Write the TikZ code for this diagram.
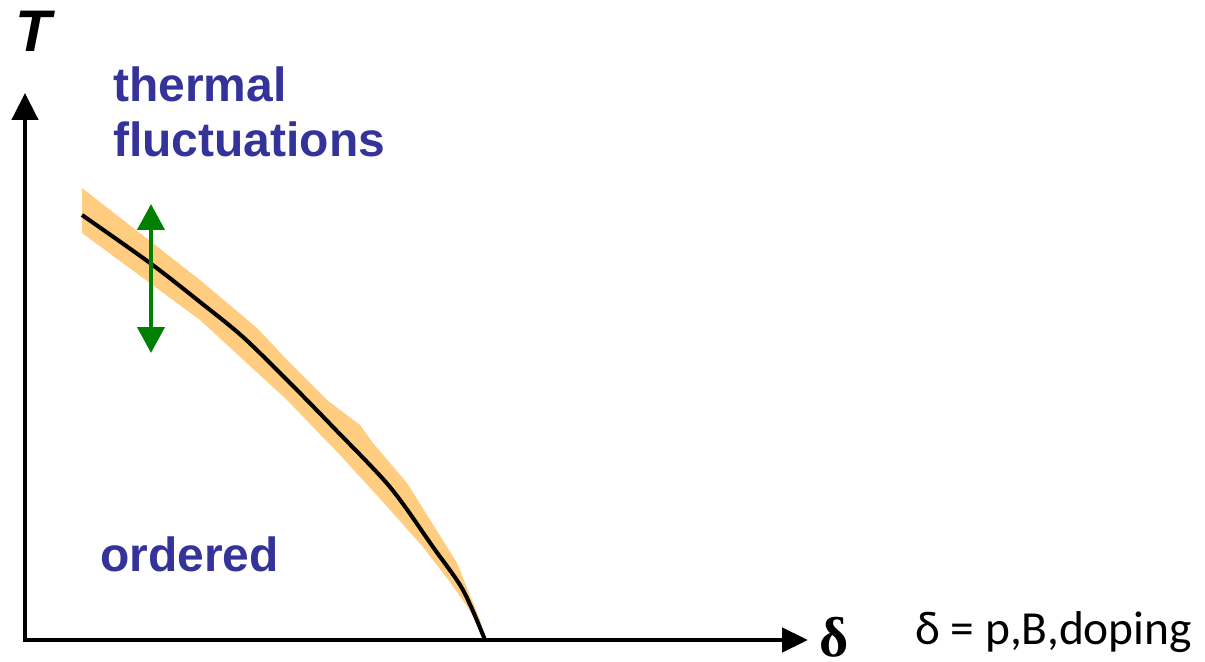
\documentclass[tikz,border=0pt]{standalone}
\usepackage{fontspec}
\setmainfont{Liberation Sans}
\newfontfamily\labelfont{Carlito}
\newfontfamily\greekfont{Liberation Serif}
\usetikzlibrary{arrows.meta}
\definecolor{phblue}{RGB}{51,51,153}
\definecolor{phorange}{RGB}{255,204,128}
\definecolor{phgreen}{RGB}{0,128,0}

\begin{document}
\begin{tikzpicture}[x=0.02cm, y=-0.02cm,
  axis/.style={line width=2.6pt, line join=miter,
    {Triangle[length=0.54cm, width=0.52cm]}-{Triangle[length=0.52cm, width=0.48cm]}},
  fluct/.style={phgreen, line width=2.4pt,
    {Triangle[length=0.52cm, width=0.54cm]}-{Triangle[length=0.52cm, width=0.54cm]}},
  phase/.style={font=\fontsize{27.3}{31}\selectfont\bfseries, text=phblue, anchor=base west, inner sep=0pt},
  band/.style={fill=phorange},
  tcline/.style={black, line width=2.3pt}]
\useasboundingbox (0,0) rectangle (1205,662);
% Axes
\coordinate (origin) at (25,640);
\coordinate (ytip) at (25,93);
\coordinate (xtip) at (808,640);
\draw[axis] (ytip) -- (origin) -- (xtip);
\node[anchor=base west, inner sep=0pt, font=\fontsize{33.4}{38}\selectfont\bfseries\itshape] (tlabel) at (15,52) {T};
\node[anchor=base west, inner sep=0pt, font=\fontsize{32}{36}\selectfont\greekfont\bfseries] (dlabel) at (819,656) {δ};
\node[anchor=base west, inner sep=0pt, font=\fontsize{27}{32}\selectfont\labelfont] (dmeaning) at (915,644) {δ = p,B,doping};
% Orange band round the transition line
\fill[band] (82,188) -- (200,280) -- (257,328) -- (290,363) -- (327,400) -- (360,425)
  -- (373,443) -- (407,483) -- (457,563) -- (480,620) -- (485,640)
  -- (473,615) -- (450,582) -- (423,547) -- (383,502) -- (340,455) -- (287,400)
  -- (200,320) -- (82,233) -- cycle;
% Transition line
\draw[tcline] plot[smooth] coordinates {(82,215) (150,263) (200,302) (243,337) (290,383)
  (333,427) (390,487) (433,547) (463,590) (485,640)};
% Fluctuation arrow
\coordinate (fup) at (151,204);
\coordinate (fdown) at (151,353);
\draw[fluct] (fdown) -- (fup);
% Phase labels
\node[phase] (thermal) at (113,102) {thermal};
\node[phase] (fluctuations) at (113,157) {fluctuations};
\node[phase] (ordered) at (100,572) {ordered};
\end{tikzpicture}
\end{document}
